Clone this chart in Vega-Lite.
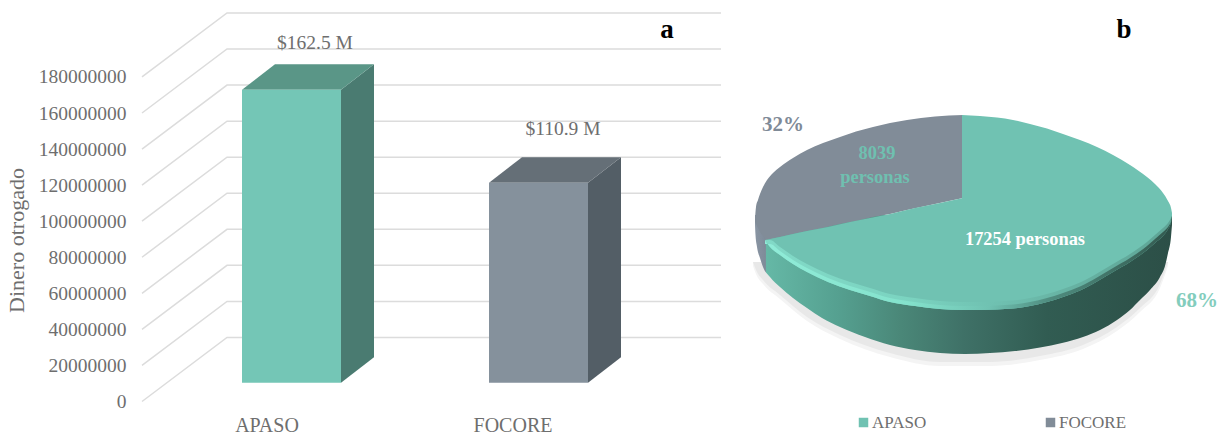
{
  "$schema": "https://vega.github.io/schema/vega-lite/v6.json",
  "padding": 0,
  "background": "white",
  "spacing": 0,
  "config": {
    "view": {"stroke": null},
    "font": "Liberation Serif",
    "text": {"font": "Liberation Serif"}
  },
  "datasets": {
    "programas": [
      {"programa": "APASO", "monto": 162500000, "rotulo": "$162.5 M", "cota": 198800000, "ini": 112, "fin": 211, "centro": 185, "pie": 137},
      {"programa": "FOCORE", "monto": 110900000, "rotulo": "$110.9 M", "cota": 151100000, "ini": 359, "fin": 458, "centro": 433, "pie": 383}
    ],
    "lateral": [
      {"programa": "APASO", "x": 211, "alto": 162500000, "base": 0},
      {"programa": "APASO", "x": 244, "alto": 176600000, "base": 14090000},
      {"programa": "FOCORE", "x": 458, "alto": 110900000, "base": 0},
      {"programa": "FOCORE", "x": 491, "alto": 124990000, "base": 14090000}
    ],
    "tapa": [
      {"programa": "APASO", "alto": 162500000, "x": 112, "x2": 211},
      {"programa": "APASO", "alto": 176600000, "x": 145, "x2": 244},
      {"programa": "FOCORE", "alto": 110900000, "x": 359, "x2": 458},
      {"programa": "FOCORE", "alto": 124990000, "x": 392, "x2": 491}
    ],
    "reticula": [
      {"tick": 0, "x": 12, "y": 0}, {"tick": 0, "x": 97, "y": 35500000}, {"tick": 0, "x": 591, "y": 35500000},
      {"tick": 20000000, "x": 12, "y": 20000000}, {"tick": 20000000, "x": 97, "y": 55500000}, {"tick": 20000000, "x": 591, "y": 55500000},
      {"tick": 40000000, "x": 12, "y": 40000000}, {"tick": 40000000, "x": 97, "y": 75500000}, {"tick": 40000000, "x": 591, "y": 75500000},
      {"tick": 60000000, "x": 12, "y": 60000000}, {"tick": 60000000, "x": 97, "y": 95500000}, {"tick": 60000000, "x": 591, "y": 95500000},
      {"tick": 80000000, "x": 12, "y": 80000000}, {"tick": 80000000, "x": 97, "y": 115500000}, {"tick": 80000000, "x": 591, "y": 115500000},
      {"tick": 100000000, "x": 12, "y": 100000000}, {"tick": 100000000, "x": 97, "y": 135500000}, {"tick": 100000000, "x": 591, "y": 135500000},
      {"tick": 120000000, "x": 12, "y": 120000000}, {"tick": 120000000, "x": 97, "y": 155500000}, {"tick": 120000000, "x": 591, "y": 155500000},
      {"tick": 140000000, "x": 12, "y": 140000000}, {"tick": 140000000, "x": 97, "y": 175500000}, {"tick": 140000000, "x": 591, "y": 175500000},
      {"tick": 160000000, "x": 12, "y": 160000000}, {"tick": 160000000, "x": 97, "y": 195500000}, {"tick": 160000000, "x": 591, "y": 195500000},
      {"tick": 180000000, "x": 12, "y": 180000000}, {"tick": 180000000, "x": 97, "y": 215500000}, {"tick": 180000000, "x": 591, "y": 215500000}
    ],
    "sombra": [
      {"u": -210, "y": -50, "y2": -50}, {"u": -207, "y": -50, "y2": -58}, {"u": -200, "y": -50, "y2": -68},
      {"u": -183, "y": -50, "y2": -83}, {"u": -156, "y": -50, "y2": -105}, {"u": -123, "y": -50, "y2": -123},
      {"u": -73, "y": -50, "y2": -141}, {"u": -23, "y": -50, "y2": -150}, {"u": 27, "y": -50, "y2": -150},
      {"u": 77, "y": -50, "y2": -144}, {"u": 120, "y": -50, "y2": -133}, {"u": 154, "y": -50, "y2": -115},
      {"u": 177, "y": -50, "y2": -96}, {"u": 197, "y": -50, "y2": -72}, {"u": 205, "y": -50, "y2": -50}
    ],
    "muro": [
      {"u": -208, "y": -3, "y2": -13}, {"u": -207.5, "y": -3, "y2": -23}, {"u": -206, "y": -3, "y2": -35},
      {"u": -203, "y": -3, "y2": -46}, {"u": -200, "y": -3, "y2": -55}, {"u": -193, "y": -3, "y2": -65},
      {"u": -183, "y": -3, "y2": -75}, {"u": -170, "y": -3, "y2": -86}, {"u": -156, "y": -3, "y2": -96},
      {"u": -141, "y": -3, "y2": -106}, {"u": -123, "y": -3, "y2": -115}, {"u": -98, "y": -3, "y2": -125},
      {"u": -73, "y": -3, "y2": -133}, {"u": -48, "y": -3, "y2": -138}, {"u": -23, "y": -3, "y2": -141},
      {"u": 2, "y": -3, "y2": -142}, {"u": 27, "y": -3, "y2": -141}, {"u": 52, "y": -3, "y2": -139},
      {"u": 77, "y": -3, "y2": -135.5}, {"u": 99, "y": -3, "y2": -131}, {"u": 120, "y": -3, "y2": -125},
      {"u": 137, "y": -3, "y2": -118}, {"u": 154, "y": -3, "y2": -108}, {"u": 167, "y": -3, "y2": -98},
      {"u": 177, "y": -3, "y2": -88}, {"u": 187, "y": -3, "y2": -78}, {"u": 197, "y": -3, "y2": -65},
      {"u": 202, "y": -3, "y2": -54}, {"u": 205, "y": -3, "y2": -41}, {"u": 208, "y": -3, "y2": -25},
      {"u": 209, "y": -3, "y2": -13}
    ],
    "superficie": [
      {"programa": "FOCORE", "parte": "f", "u": -208, "y": -8, "y2": -10},
      {"programa": "FOCORE", "parte": "f", "u": -207, "y": 5, "y2": -12},
      {"programa": "FOCORE", "parte": "f", "u": -205, "y": 12, "y2": -16},
      {"programa": "FOCORE", "parte": "f", "u": -203, "y": 18, "y2": -20},
      {"programa": "FOCORE", "parte": "f", "u": -200, "y": 25, "y2": -24},
      {"programa": "FOCORE", "parte": "f", "u": -196, "y": 32, "y2": -28},
      {"programa": "FOCORE", "parte": "f", "u": -190, "y": 39, "y2": -26.5},
      {"programa": "FOCORE", "parte": "f", "u": -183, "y": 45, "y2": -25},
      {"programa": "FOCORE", "parte": "f", "u": -170, "y": 54, "y2": -22},
      {"programa": "FOCORE", "parte": "f", "u": -156, "y": 62, "y2": -19},
      {"programa": "FOCORE", "parte": "f", "u": -140, "y": 69, "y2": -16},
      {"programa": "FOCORE", "parte": "f", "u": -123, "y": 75, "y2": -12},
      {"programa": "FOCORE", "parte": "f", "u": -107, "y": 80.5, "y2": -9},
      {"programa": "FOCORE", "parte": "f", "u": -90, "y": 85, "y2": -5},
      {"programa": "FOCORE", "parte": "f", "u": -73, "y": 89, "y2": -2},
      {"programa": "FOCORE", "parte": "f", "u": -56, "y": 92, "y2": 2},
      {"programa": "FOCORE", "parte": "f", "u": -28, "y": 95.5, "y2": 8},
      {"programa": "FOCORE", "parte": "f", "u": 0, "y": 97, "y2": 14},
      {"programa": "APASO", "parte": "a1", "u": -198, "y": -28, "y2": -28},
      {"programa": "APASO", "parte": "a1", "u": -193, "y": -27, "y2": -35},
      {"programa": "APASO", "parte": "a1", "u": -183, "y": -25, "y2": -43},
      {"programa": "APASO", "parte": "a1", "u": -170, "y": -22, "y2": -52},
      {"programa": "APASO", "parte": "a1", "u": -156, "y": -19, "y2": -60},
      {"programa": "APASO", "parte": "a1", "u": -135, "y": -15, "y2": -70},
      {"programa": "APASO", "parte": "a1", "u": -113, "y": -10, "y2": -78},
      {"programa": "APASO", "parte": "a1", "u": -93, "y": -6, "y2": -84},
      {"programa": "APASO", "parte": "a1", "u": -73, "y": -2, "y2": -90},
      {"programa": "APASO", "parte": "a1", "u": -48, "y": 4, "y2": -94},
      {"programa": "APASO", "parte": "a1", "u": -23, "y": 9, "y2": -97},
      {"programa": "APASO", "parte": "a1", "u": 0, "y": 14, "y2": -98},
      {"programa": "APASO", "parte": "a2", "u": -1, "y": 97, "y2": -98},
      {"programa": "APASO", "parte": "a2", "u": 17, "y": 96, "y2": -98},
      {"programa": "APASO", "parte": "a2", "u": 34, "y": 94.5, "y2": -97.5},
      {"programa": "APASO", "parte": "a2", "u": 50, "y": 92, "y2": -96.5},
      {"programa": "APASO", "parte": "a2", "u": 67, "y": 88, "y2": -94},
      {"programa": "APASO", "parte": "a2", "u": 84, "y": 83.5, "y2": -90},
      {"programa": "APASO", "parte": "a2", "u": 100, "y": 78, "y2": -85},
      {"programa": "APASO", "parte": "a2", "u": 117, "y": 72, "y2": -78.5},
      {"programa": "APASO", "parte": "a2", "u": 134, "y": 65, "y2": -69.5},
      {"programa": "APASO", "parte": "a2", "u": 150, "y": 57, "y2": -60},
      {"programa": "APASO", "parte": "a2", "u": 167, "y": 47, "y2": -50},
      {"programa": "APASO", "parte": "a2", "u": 184, "y": 35, "y2": -38},
      {"programa": "APASO", "parte": "a2", "u": 192, "y": 28, "y2": -31},
      {"programa": "APASO", "parte": "a2", "u": 200, "y": 19, "y2": -24},
      {"programa": "APASO", "parte": "a2", "u": 205, "y": 11, "y2": -17},
      {"programa": "APASO", "parte": "a2", "u": 208, "y": 4, "y2": -10},
      {"programa": "APASO", "parte": "a2", "u": 209, "y": -1, "y2": -4}
    ],
    "borde": [
      {"u": -198, "y": -28, "y2": -28}, {"u": -193, "y": -28, "y2": -35}, {"u": -183, "y": -35, "y2": -43},
      {"u": -170, "y": -44, "y2": -52}, {"u": -156, "y": -52, "y2": -60}, {"u": -135, "y": -62, "y2": -70},
      {"u": -113, "y": -70, "y2": -78}, {"u": -93, "y": -76, "y2": -84}, {"u": -73, "y": -82, "y2": -90},
      {"u": -48, "y": -86, "y2": -94}, {"u": -23, "y": -89, "y2": -97}, {"u": 0, "y": -90, "y2": -98},
      {"u": 17, "y": -90, "y2": -98}, {"u": 34, "y": -89.5, "y2": -97.5}, {"u": 50, "y": -88.5, "y2": -96.5},
      {"u": 67, "y": -86, "y2": -94}, {"u": 84, "y": -82, "y2": -90}, {"u": 100, "y": -77, "y2": -85},
      {"u": 117, "y": -70.5, "y2": -78.5}, {"u": 134, "y": -61.5, "y2": -69.5}, {"u": 150, "y": -52, "y2": -60},
      {"u": 167, "y": -42, "y2": -50}, {"u": 184, "y": -30, "y2": -38}, {"u": 192, "y": -23, "y2": -31},
      {"u": 200, "y": -16, "y2": -24}, {"u": 205, "y": -11, "y2": -17}, {"u": 208, "y": -6, "y2": -10},
      {"u": 209, "y": -4, "y2": -4}
    ],
    "personas": [
      {"programa": "FOCORE", "rotulo": "8039", "u": -86, "v": 59},
      {"programa": "FOCORE", "rotulo": "personas", "u": -88, "v": 35},
      {"programa": "APASO", "rotulo": "17254 personas", "u": 62, "v": -27}
    ],
    "porcentajes": [
      {"programa": "FOCORE", "rotulo": "32%", "u": -180, "v": 87},
      {"programa": "APASO", "rotulo": "68%", "u": 234, "v": -89}
    ]
  },
  "hconcat": [
    {
      "width": 600,
      "height": 434,
      "layer": [
        {
          "data": {"name": "reticula"},
          "mark": {"type": "line", "color": "#DCDCDC", "strokeWidth": 1.5},
          "encoding": {
            "x": {"field": "x", "type": "quantitative", "scale": {"domain": [0, 600]}, "axis": null},
            "y": {
              "field": "y", "type": "quantitative",
              "scale": {"domain": [-18025000, 222685000], "nice": false, "zero": false},
              "axis": {
                "values": [0, 20000000, 40000000, 60000000, 80000000, 100000000, 120000000, 140000000, 160000000, 180000000],
                "format": "d", "grid": false, "domain": false, "ticks": false, "labelPadding": 4,
                "labelFont": "Liberation Serif", "labelFontSize": 19.5, "labelColor": "#6E6E6E",
                "title": "Dinero otrogado", "titleFont": "Liberation Serif", "titleFontSize": 22,
                "titleFontWeight": "normal", "titleColor": "#6E6E6E", "titleX": -114, "titleY": 240,
                "titleBaseline": "middle", "minExtent": 130, "maxExtent": 130
              }
            },
            "detail": {"field": "tick"}
          }
        },
        {
          "data": {"name": "lateral"},
          "mark": {"type": "area", "orient": "vertical", "yOffset": -18.8, "y2Offset": -18.8},
          "encoding": {
            "x": {"field": "x", "type": "quantitative"},
            "y": {"field": "alto", "type": "quantitative", "stack": null},
            "y2": {"field": "base"},
            "detail": {"field": "programa"},
            "color": {"condition": {"test": "datum.programa === 'APASO'", "value": "#4A7B71"}, "value": "#535E66"}
          }
        },
        {
          "data": {"name": "tapa"},
          "mark": {"type": "area", "orient": "horizontal", "yOffset": -18.8},
          "encoding": {
            "y": {"field": "alto", "type": "quantitative"},
            "x": {"field": "x", "type": "quantitative", "stack": null},
            "x2": {"field": "x2"},
            "detail": {"field": "programa"},
            "color": {"condition": {"test": "datum.programa === 'APASO'", "value": "#5A9687"}, "value": "#656F77"}
          }
        },
        {
          "data": {"name": "programas"},
          "mark": {"type": "bar", "yOffset": -18.8, "y2Offset": -18.8},
          "encoding": {
            "x": {"field": "ini", "type": "quantitative"},
            "x2": {"field": "fin"},
            "y": {"field": "monto", "type": "quantitative"},
            "y2": {"datum": 0},
            "color": {"condition": {"test": "datum.programa === 'APASO'", "value": "#74C6B6"}, "value": "#85919C"}
          }
        },
        {
          "data": {"name": "programas"},
          "mark": {"type": "text", "fontSize": 19.5, "color": "#6E6E6E"},
          "encoding": {
            "x": {"field": "centro", "type": "quantitative"},
            "y": {"field": "cota", "type": "quantitative"},
            "text": {"field": "rotulo"}
          }
        },
        {
          "data": {"name": "programas"},
          "mark": {"type": "text", "fontSize": 20, "color": "#6E6E6E"},
          "encoding": {
            "x": {"field": "pie", "type": "quantitative"},
            "y": {"datum": -13600000},
            "text": {"field": "programa"}
          }
        },
        {
          "data": {"values": [{"panel": "a", "x": 537, "y": 206000000}]},
          "mark": {"type": "text", "fontSize": 27, "fontWeight": "bold", "color": "#000000"},
          "encoding": {
            "x": {"field": "x", "type": "quantitative"},
            "y": {"field": "y", "type": "quantitative"},
            "text": {"field": "panel"}
          }
        }
      ]
    },
    {
      "width": 496,
      "height": 434,
      "encoding": {
        "x": {"field": "u", "type": "quantitative", "scale": {"domain": [-233, 263]}, "axis": null},
        "y": {"field": "y", "type": "quantitative", "scale": {"domain": [-222, 212], "nice": false, "zero": false}, "axis": null, "stack": null}
      },
      "layer": [
        {
          "data": {"name": "sombra"},
          "mark": {"type": "area", "interpolate": "monotone", "color": "#F4F4F4", "y2Offset": 4},
          "encoding": {"y2": {"field": "y2"}}
        },
        {
          "data": {"name": "sombra"},
          "mark": {"type": "area", "interpolate": "monotone", "color": "#E8E8E8"},
          "encoding": {"y2": {"field": "y2"}}
        },
        {
          "data": {"name": "muro"},
          "mark": {
            "type": "area", "interpolate": "monotone",
            "color": {
              "gradient": "linear", "x1": 0, "x2": 1, "y1": 0, "y2": 0,
              "stops": [
                {"offset": 0, "color": "#8995A3"}, {"offset": 0.025, "color": "#7F8B99"},
                {"offset": 0.027, "color": "#65B8A6"}, {"offset": 0.2, "color": "#55A090"},
                {"offset": 0.35, "color": "#4A8778"}, {"offset": 0.5, "color": "#3F7167"},
                {"offset": 0.7, "color": "#315C52"}, {"offset": 1, "color": "#2C4F47"}
              ]
            }
          },
          "encoding": {"y2": {"field": "y2"}}
        },
        {
          "data": {"name": "superficie"},
          "mark": {"type": "area", "interpolate": "monotone"},
          "encoding": {
            "y2": {"field": "y2"},
            "detail": {"field": "parte"},
            "color": {
              "field": "programa", "type": "nominal",
              "scale": {"domain": ["APASO", "FOCORE"], "range": ["#70C2B2", "#818C98"]},
              "legend": {
                "orient": "none", "legendX": 125, "legendY": 414, "direction": "horizontal", "title": null,
                "symbolType": "square", "symbolSize": 90, "labelFont": "Liberation Serif", "labelFontSize": 17,
                "labelColor": "#6E6E6E", "labelOffset": 0, "columnPadding": 115, "gridAlign": "none"
              }
            }
          }
        },
        {
          "data": {"name": "borde"},
          "mark": {
            "type": "area", "interpolate": "monotone", "opacity": 0.55,
            "color": {
              "gradient": "linear", "x1": 0, "x2": 1, "y1": 0, "y2": 0,
              "stops": [
                {"offset": 0, "color": "#90ECD8"}, {"offset": 0.35, "color": "#84E2CC"},
                {"offset": 0.55, "color": "#70C2B2"}, {"offset": 0.75, "color": "#5FA596"}, {"offset": 1, "color": "#4F8C7F"}
              ]
            }
          },
          "encoding": {"y2": {"field": "y2"}}
        },
        {
          "data": {"name": "borde"},
          "mark": {
            "type": "area", "interpolate": "monotone", "yOffset": 4,
            "color": {
              "gradient": "linear", "x1": 0, "x2": 1, "y1": 0, "y2": 0,
              "stops": [
                {"offset": 0, "color": "#90ECD8"}, {"offset": 0.35, "color": "#84E2CC"},
                {"offset": 0.55, "color": "#70C2B2"}, {"offset": 0.7, "color": "#4F8C7F"}, {"offset": 1, "color": "#33594F"}
              ]
            }
          },
          "encoding": {"y2": {"field": "y2"}}
        },
        {
          "data": {"name": "personas"},
          "mark": {"type": "text", "fontSize": 18.4, "fontWeight": "bold"},
          "encoding": {
            "y": {"field": "v", "type": "quantitative"},
            "text": {"field": "rotulo"},
            "color": {"condition": {"test": "datum.programa === 'APASO'", "value": "#FFFFFF"}, "value": "#6FC0B0"}
          }
        },
        {
          "data": {"name": "porcentajes"},
          "mark": {"type": "text", "fontSize": 21, "fontWeight": "bold"},
          "encoding": {
            "y": {"field": "v", "type": "quantitative"},
            "text": {"field": "rotulo"},
            "color": {"condition": {"test": "datum.programa === 'APASO'", "value": "#83CDBD"}, "value": "#7F8A97"}
          }
        },
        {
          "data": {"values": [{"panel": "b", "u": 161, "v": 182}]},
          "mark": {"type": "text", "fontSize": 27, "fontWeight": "bold", "color": "#000000"},
          "encoding": {
            "y": {"field": "v", "type": "quantitative"},
            "text": {"field": "panel"}
          }
        }
      ]
    }
  ],
  "resolve": {"legend": {"color": "independent"}}
}
